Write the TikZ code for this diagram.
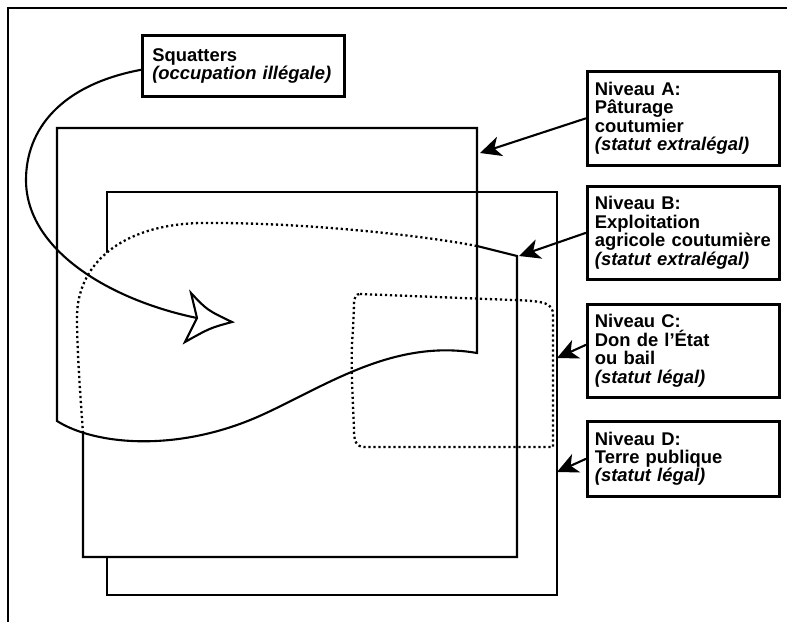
\documentclass[tikz,border=0pt]{standalone}
\usepackage{fontspec}
\setmainfont{Liberation Sans}
\usetikzlibrary{arrows.meta}

\begin{document}
\begin{tikzpicture}
[x=0.5pt,y=-0.5pt,
 lbl/.style={draw,line width=1.3pt,align=left,anchor=north west,inner xsep=3.8pt,inner ysep=0pt,text width=88.4pt,font=\fontsize{9.2}{9.2}\selectfont\bfseries},
 zone/.style={line width=1.05pt},
 dots/.style={line width=1.15pt,dash pattern=on 1.1pt off 1.4pt},
 ptr/.style={line width=1.05pt,-{Stealth[length=10.5pt,width=10pt,inset=3pt]}}]
\useasboundingbox (0,0) rectangle (787,622);
\draw[line width=0.7pt] (787,8) -- (8,8) -- (8,622);
% level D
\draw[zone] (107,192) rectangle (557,595);
% level B
\coordinate (b1) at (477,246);
\coordinate (b2) at (517,256);
\coordinate (b3) at (517,557);
\coordinate (b4) at (83,557);
\coordinate (b5) at (83,433);
\fill[white] (b5) .. controls (80,390) and (77,350) .. (77,317) .. controls (77,265) and (120,225) .. (200,223) .. controls (300,222) and (420,235) .. (b1) -- (b2) -- (b3) -- (b4) -- cycle;
\draw[dots] (b5) .. controls (80,390) and (77,350) .. (77,317) .. controls (77,265) and (120,225) .. (200,223) .. controls (300,222) and (420,235) .. (b1);
\draw[zone] (b1) -- (b2) -- (b3) -- (b4) -- (b5);
% level C
\draw[dots] (360,294) -- (513,300) .. controls (545,301) and (553,303) .. (553,315) -- (553,447) -- (365,447) .. controls (356,447) and (354,441) .. (354,430) .. controls (353,400) and (350,360) .. (353,330) -- (354,305) .. controls (354,297) and (356,294) .. (360,294) -- cycle;
% level A
\draw[zone] (57,128) -- (477,128) -- (477,353) .. controls (390,338) and (320,390) .. (255,418) .. controls (175,452) and (95,445) .. (57,421) -- cycle;
% labels
\node[lbl,text width=91pt,inner xsep=5pt,minimum height=30.5pt] (sq) at (141,34) {Squatters\\ \textit{(occupation illégale)}};
\node[lbl,minimum height=47pt] (la) at (586,70) {Niveau A:\\ Pâturage\\ coutumier\\ \textit{(statut extralégal)}};
\node[lbl,minimum height=46.5pt] (lb) at (586,185) {Niveau B:\\ Exploitation\\ agricole coutumière\\ \textit{(statut extralégal)}};
\node[lbl,minimum height=46.5pt] (lc) at (586,303) {Niveau C:\\ Don de l’État\\ ou bail\\ \textit{(statut légal)}};
\node[lbl,minimum height=37.5pt] (ld) at (586,420) {Niveau D:\\ Terre publique\\ \textit{(statut légal)}};
% squatters arrow
\coordinate (hn) at (197,318);
\coordinate (hu) at (191,293);
\coordinate (ht) at (232,322);
\coordinate (hl) at (185,342);
\draw[zone] ([yshift=-2pt]sq.west) .. controls (60,85) and (26,130) .. (26,180) .. controls (26,250) and (110,300) .. (hn);
\draw[zone,line join=miter] (hn) -- (hu) .. controls (207,310) .. (ht) .. controls (210,328) .. (hl) -- cycle;
% pointers
\coordinate (ta) at (480,153);
\coordinate (tb) at (519,256);
\coordinate (tc) at (557,358);
\coordinate (td) at (557,472);
\draw[ptr] (la.west) -- (ta);
\draw[ptr] (lb.west) -- (tb);
\draw[ptr] ([yshift=3pt]lc.west) -- (tc);
\draw[ptr] (ld.west) -- (td);
\end{tikzpicture}
\end{document}
